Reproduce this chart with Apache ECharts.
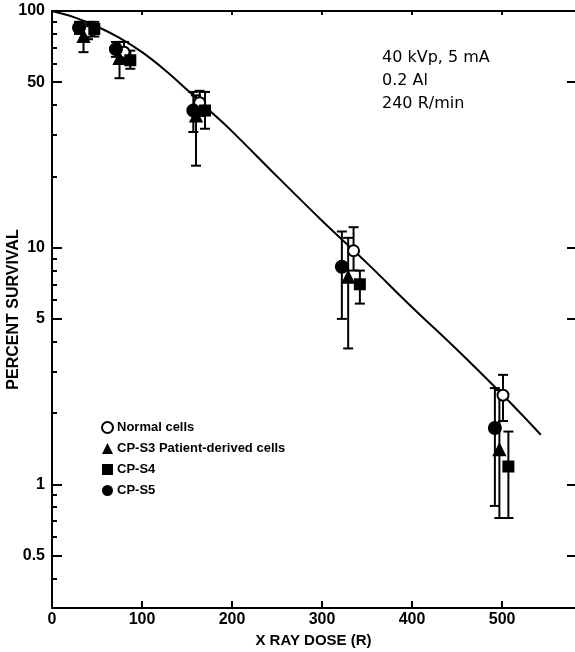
<!DOCTYPE html>
<html>
<head>
<meta charset="utf-8">
<style>
  html, body { margin: 0; padding: 0; background: #fff; }
  #chart { width: 575px; height: 652px; }
</style>
<script src="https://cdn.jsdelivr.net/npm/echarts@6/dist/echarts.min.js"></script>
</head>
<body>
<div id="chart"></div>
<script>
// survival curve (fitted line)
var curveDose = [0, 25, 50, 75, 100, 125, 150, 175, 200, 250, 300, 350, 400, 450, 500, 543];
var curveSurv = [100, 94, 86, 77, 67, 56.5, 46.5, 38, 31, 20, 13, 8.6, 5.6, 3.7, 2.4, 1.62];

// points: [dose, percent survival, error low, error high]
var normalCells = [[40, 82, 76, 90], [80, 67, 60, 74], [164, 41, 36, 46], [335, 9.7, 8, 12.2], [501, 2.38, 1.85, 2.9]];
var cpS3 = [[35, 78, 67, 88], [75, 63, 52, 74], [160, 36, 22.2, 44], [329, 7.5, 3.75, 11], [497, 1.4, 0.72, 2.5]];
var cpS4 = [[47, 84, 78, 90], [87, 62, 57, 68], [170, 38, 31.8, 45.5], [342, 7.0, 5.8, 8.0], [507, 1.19, 0.72, 1.67]];
var cpS5 = [[30, 85, 80, 90], [71, 69, 64, 74], [157, 38, 30.8, 45.5], [322, 8.3, 5.0, 11.7], [492, 1.73, 0.81, 2.55]];

var xTicks = [0, 100, 200, 300, 400, 500];
var yLabels = [0.5, 1, 5, 10, 50, 100];
var yMinorTicks = [0.4, 0.6, 0.7, 0.8, 0.9, 2, 3, 4, 6, 7, 8, 9, 20, 30, 40, 60, 70, 80, 90];
var notes = ["40 kVp, 5 mA", "0.2 Al", "240 R/min"];

var INK = "#000";
var FONT = "'Liberation Sans', Arial, sans-serif";

function errorBars(name, data) {
  return {
    name: name + " err",
    type: "custom",
    z: 2,
    silent: true,
    data: data,
    renderItem: function (params, api) {
      var x = api.value(0);
      var lo = api.coord([x, api.value(2)]);
      var hi = api.coord([x, api.value(3)]);
      var cw = 5;
      var st = { stroke: INK, lineWidth: 2 };
      return {
        type: "group",
        children: [
          { type: "line", shape: { x1: lo[0], y1: lo[1], x2: hi[0], y2: hi[1] }, style: st },
          { type: "line", shape: { x1: lo[0] - cw, y1: lo[1], x2: lo[0] + cw, y2: lo[1] }, style: st },
          { type: "line", shape: { x1: hi[0] - cw, y1: hi[1], x2: hi[0] + cw, y2: hi[1] }, style: st }
        ]
      };
    }
  };
}

function points(name, data, symbol, size, fill) {
  return {
    name: name,
    type: "scatter",
    z: 3,
    symbol: symbol,
    symbolSize: size,
    data: data.map(function (d) { return [d[0], d[1]]; }),
    itemStyle: { color: fill, borderColor: INK, borderWidth: 2, opacity: 1 }
  };
}

var groups = [
  { name: "Normal cells", data: normalCells, symbol: "circle", size: 11, fill: "#fff" },
  { name: "CP-S3 Patient-derived cells", data: cpS3, symbol: "triangle", size: 11, fill: INK },
  { name: "CP-S4", data: cpS4, symbol: "rect", size: 10, fill: INK },
  { name: "CP-S5", data: cpS5, symbol: "circle", size: 12, fill: INK }
];

var series = [{
  name: "fit",
  type: "line",
  z: 1,
  smooth: 0.4,
  showSymbol: false,
  silent: true,
  data: curveDose.map(function (d, i) { return [d, curveSurv[i]]; }),
  lineStyle: { color: INK, width: 2 }
}];
groups.forEach(function (g) { series.push(errorBars(g.name, g.data)); });
groups.forEach(function (g) { series.push(points(g.name, g.data, g.symbol, g.size, g.fill)); });

var xBase = { type: "value", min: 0, max: 581, splitLine: { show: false } };
var yBase = { type: "log", min: 0.3, max: 100, splitLine: { show: false } };

var option = {
  animation: false,
  backgroundColor: "#fff",
  textStyle: { fontFamily: FONT, color: INK },
  grid: { left: 52, right: 0, top: 11, bottom: 44, containLabel: false, outerBoundsMode: "none" },
  legend: {
    orient: "vertical",
    left: 101,
    top: 421,
    itemGap: 8,
    itemWidth: 11,
    itemHeight: 11,
    padding: 0,
    selectedMode: false,
    data: groups.map(function (g) {
      return { name: g.name, icon: g.symbol, itemStyle: { color: g.fill, borderColor: INK, borderWidth: g.fill === "#fff" ? 2 : 0 } };
    }),
    textStyle: { fontFamily: FONT, fontWeight: "bold", fontSize: 13, color: INK, padding: [0, 0, 0, -1] }
  },
  xAxis: [
    Object.assign({}, xBase, {
      position: "bottom",
      name: "X RAY DOSE (R)",
      nameLocation: "middle",
      nameGap: 23,
      nameTextStyle: { fontFamily: FONT, fontWeight: "bold", fontSize: 15, color: INK },
      axisLine: { lineStyle: { color: INK, width: 2 } },
      axisTick: { inside: true, length: 7, lineStyle: { color: INK, width: 2 }, customValues: xTicks.slice(1) },
      axisLabel: { customValues: xTicks, margin: 4, fontFamily: FONT, fontWeight: "bold", fontSize: 16, color: INK }
    }),
    Object.assign({}, xBase, {
      position: "top",
      axisLine: { lineStyle: { color: INK, width: 2 } },
      axisTick: { inside: true, length: 4, lineStyle: { color: INK, width: 2 }, customValues: xTicks.slice(1) },
      axisLabel: { show: false }
    })
  ],
  yAxis: [
    Object.assign({}, yBase, {
      position: "left",
      name: "PERCENT SURVIVAL",
      nameLocation: "middle",
      nameGap: 30,
      nameMoveOverlap: false,
      nameRotate: 90,
      nameTextStyle: { fontFamily: FONT, fontWeight: "bold", fontSize: 16, color: INK },
      axisLine: { lineStyle: { color: INK, width: 2 } },
      axisTick: { inside: true, length: 5, lineStyle: { color: INK, width: 2 }, customValues: yMinorTicks },
      axisLabel: {
        customValues: yLabels, margin: 7,
        fontFamily: FONT, fontWeight: "bold", fontSize: 16, color: INK,
        formatter: function (v) { return String(v); }
      }
    }),
    Object.assign({}, yBase, {
      position: "left",
      axisLine: { show: false },
      axisTick: { inside: true, length: 10, lineStyle: { color: INK, width: 2 }, customValues: yLabels },
      axisLabel: { show: false }
    }),
    Object.assign({}, yBase, {
      position: "right",
      axisLine: { show: false },
      axisTick: { inside: true, length: 8, lineStyle: { color: INK, width: 2 }, customValues: yLabels.slice(0, 5) },
      axisLabel: { show: false }
    })
  ],
  graphic: notes.map(function (t, i) {
    return {
      type: "text",
      left: 382,
      top: 50 + i * 23,
      style: { text: t, fill: INK, font: "16px 'DejaVu Sans', sans-serif" }
    };
  }),
  series: series
};

echarts.init(document.getElementById("chart"), null, { renderer: "canvas" }).setOption(option);
</script>
</body>
</html>
